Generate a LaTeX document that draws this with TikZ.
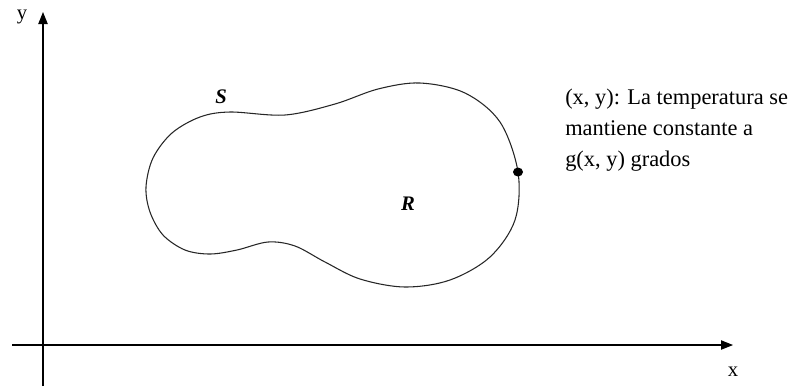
\documentclass[tikz,border=0pt]{standalone}
\usepackage{fontspec}
\setmainfont{Liberation Serif}
\usetikzlibrary{arrows.meta}

\begin{document}
\begin{tikzpicture}[x=0.75pt,y=-0.75pt,
  eje/.style={line width=0.8pt,-{Triangle[length=9pt,width=7pt]}},
  curva/.style={line width=0.8pt,black!85},
  etiq/.style={font=\fontsize{15.5}{18}\selectfont}]

\useasboundingbox (0,0) rectangle (798,387);

% Ejes
\coordinate (xini) at (12,345);
\coordinate (xfin) at (733,345);
\coordinate (yini) at (43,386);
\coordinate (yfin) at (43,12);
\draw[eje] (xini) -- (xfin);
\draw[eje] (yini) -- (yfin);
\node[etiq] (ylab) at (22,17) {y};
\node[etiq] (xlab) at (733,372) {x};

% Frontera S de la region R
\draw[curva] plot[smooth cycle, tension=0.55] coordinates {
  (146,187) (153,158) (172,133) (200,117) (230,112) (285,115)
  (335,104) (378,89) (420,83) (465,93) (500,122) (518,172)
  (515,220) (490,257) (450,280) (405,287) (360,279) (325,262)
  (295,246) (268,242) (237,250) (210,254) (185,250) (163,235)
  (150,212)};

\node[etiq] (S) at (221,97) {\bfseries\itshape S};
\node[etiq] (R) at (408,204) {\bfseries\itshape R};

% Punto sobre la frontera
\fill (518,172) ellipse (5 and 4.5);

% Texto explicativo
\node[anchor=north west,align=left,inner sep=0pt,
  font=\fontsize{16.8}{23.3}\selectfont] (txt) at (565,89) {%
(x, y): La temperatura se\\
mantiene constante a\\
g(x, y) grados};

\end{tikzpicture}
\end{document}
